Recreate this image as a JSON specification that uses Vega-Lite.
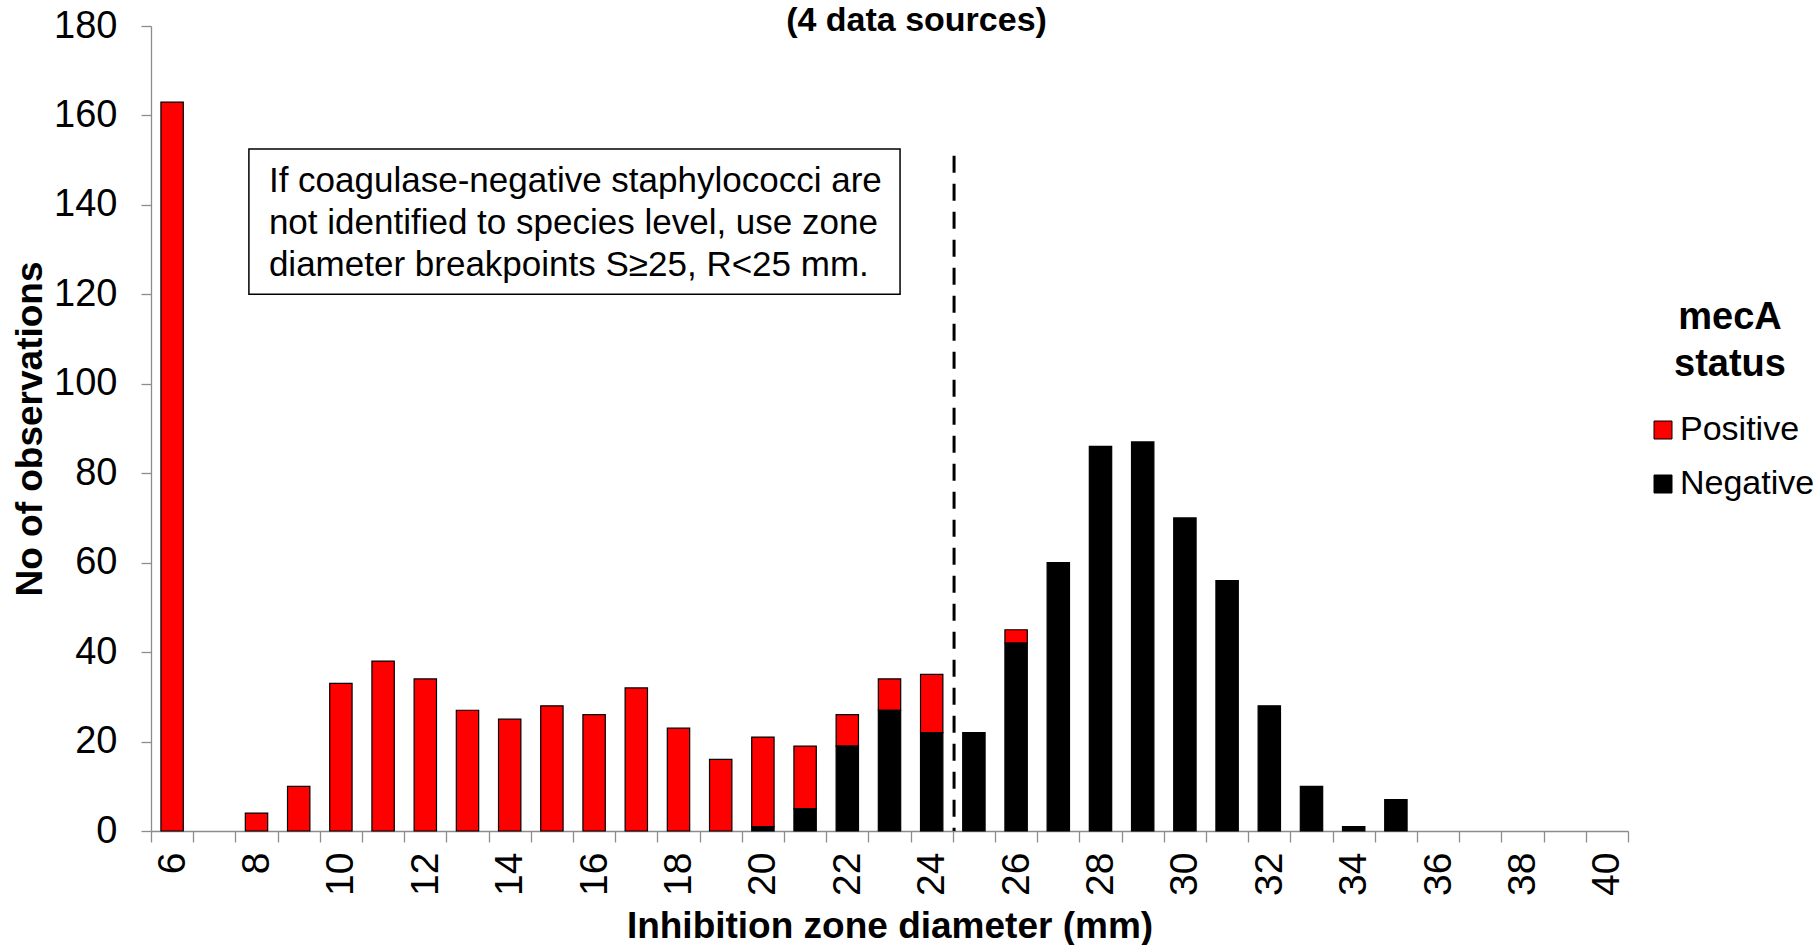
{
  "$schema": "https://vega.github.io/schema/vega-lite/v6.json",
  "width": 1477,
  "height": 805,
  "autosize": {"type": "none"},
  "padding": {"left": 151, "top": 26, "right": 188, "bottom": 114},
  "background": "white",
  "config": {"view": {"stroke": null}, "font": "Liberation Sans"},
  "title": {"text": "(4 data sources)", "font": "Liberation Sans", "fontWeight": "bold", "fontSize": 34, "color": "black", "anchor": "middle", "dx": 27, "baseline": "alphabetic", "offset": 0, "dy": 58},
  "datasets": {
    "bars": [
      {"d": 6, "status": "Positive", "n": 163},
      {"d": 8, "status": "Positive", "n": 4},
      {"d": 9, "status": "Positive", "n": 10},
      {"d": 10, "status": "Positive", "n": 33},
      {"d": 11, "status": "Positive", "n": 38},
      {"d": 12, "status": "Positive", "n": 34},
      {"d": 13, "status": "Positive", "n": 27},
      {"d": 14, "status": "Positive", "n": 25},
      {"d": 15, "status": "Positive", "n": 28},
      {"d": 16, "status": "Positive", "n": 26},
      {"d": 17, "status": "Positive", "n": 32},
      {"d": 18, "status": "Positive", "n": 23},
      {"d": 19, "status": "Positive", "n": 16},
      {"d": 20, "status": "Positive", "n": 20},
      {"d": 21, "status": "Positive", "n": 14},
      {"d": 22, "status": "Positive", "n": 7},
      {"d": 23, "status": "Positive", "n": 7},
      {"d": 24, "status": "Positive", "n": 13},
      {"d": 26, "status": "Positive", "n": 3},
      {"d": 20, "status": "Negative", "n": 1},
      {"d": 21, "status": "Negative", "n": 5},
      {"d": 22, "status": "Negative", "n": 19},
      {"d": 23, "status": "Negative", "n": 27},
      {"d": 24, "status": "Negative", "n": 22},
      {"d": 25, "status": "Negative", "n": 22},
      {"d": 26, "status": "Negative", "n": 42},
      {"d": 27, "status": "Negative", "n": 60},
      {"d": 28, "status": "Negative", "n": 86},
      {"d": 29, "status": "Negative", "n": 87},
      {"d": 30, "status": "Negative", "n": 70},
      {"d": 31, "status": "Negative", "n": 56},
      {"d": 32, "status": "Negative", "n": 28},
      {"d": 33, "status": "Negative", "n": 10},
      {"d": 34, "status": "Negative", "n": 1},
      {"d": 35, "status": "Negative", "n": 7}
    ],
    "note": [
      {"from": 8, "to": 23, "top": 152.5, "bottom": 120, "note": "If coagulase-negative staphylococci are\nnot identified to species level, use zone\ndiameter breakpoints S≥25, R<25 mm."}
    ],
    "cut": [
      {"at": 25, "top": 151, "base": 0}
    ]
  },
  "layer": [
    {
      "data": {"name": "bars"},
      "mark": {"type": "bar", "width": {"band": 0.53}, "stroke": "black", "strokeWidth": 1.2},
      "encoding": {
        "x": {
          "field": "d", "type": "ordinal", "title": "Inhibition zone diameter (mm)",
          "scale": {"domain": [6,7,8,9,10,11,12,13,14,15,16,17,18,19,20,21,22,23,24,25,26,27,28,29,30,31,32,33,34,35,36,37,38,39,40], "paddingInner": 0, "paddingOuter": 0},
          "axis": {
            "tickBand": "extent", "labelAngle": -90, "labelExpr": "datum.value % 2 == 0 ? datum.label : ''",
            "labelFont": "Liberation Sans", "labelFontSize": 39, "labelColor": "black", "labelPadding": 10,
            "tickSize": 11, "tickColor": "#8c8c8c", "tickWidth": 1.3, "domainColor": "#8c8c8c", "domainWidth": 1.3,
            "titleFont": "Liberation Sans", "titleFontWeight": "bold", "titleFontSize": 37, "titleColor": "black",
            "titleBaseline": "alphabetic", "titleY": 106, "grid": false
          }
        },
        "y": {
          "field": "n", "type": "quantitative", "stack": "zero", "title": "No of observations",
          "scale": {"domain": [0, 180], "nice": false},
          "axis": {
            "values": [0,20,40,60,80,100,120,140,160,180], "grid": false,
            "labelFont": "Liberation Sans", "labelFontSize": 38, "labelColor": "black", "labelPadding": 24,
            "tickSize": 10, "tickColor": "#8c8c8c", "tickWidth": 1.3, "domainColor": "#8c8c8c", "domainWidth": 1.3,
            "titleFont": "Liberation Sans", "titleFontWeight": "bold", "titleFontSize": 37, "titleColor": "black",
            "titleBaseline": "alphabetic", "titleX": -110, "titleY": 402.5, "titleAlign": "center", "titleAngle": 270
          }
        },
        "color": {
          "field": "status", "type": "nominal",
          "scale": {"domain": ["Positive", "Negative"], "range": ["#ff0000", "#000000"]},
          "legend": {
            "title": ["mecA", "status"], "orient": "none", "legendX": 1495, "legendY": 273,
            "titleFont": "Liberation Sans", "titleFontSize": 38, "titleFontWeight": "bold", "titleColor": "black",
            "titleAnchor": "middle", "titleAlign": "center", "titleLineHeight": 47, "titlePadding": 29,
            "labelFont": "Liberation Sans", "labelFontSize": 34, "labelColor": "black", "labelOffset": 0,
            "symbolType": "square", "symbolSize": 324, "symbolStrokeColor": "black", "symbolStrokeWidth": 1,
            "symbolOpacity": 1, "rowPadding": 20
          }
        },
        "order": {"field": "status", "sort": "ascending"}
      }
    },
    {
      "data": {"name": "note"},
      "mark": {"type": "rect", "fill": "white", "stroke": "black", "strokeWidth": 1.5},
      "encoding": {
        "x": {"field": "from", "type": "ordinal", "bandPosition": 0.32, "title": "Inhibition zone diameter (mm)"},
        "x2": {"field": "to", "bandPosition": 0.75},
        "y": {"field": "top", "type": "quantitative", "title": "No of observations"},
        "y2": {"field": "bottom"}
      }
    },
    {
      "data": {"name": "note"},
      "mark": {"type": "text", "align": "left", "baseline": "alphabetic", "dx": 20, "dy": 43, "fontSize": 35, "lineHeight": 42, "lineBreak": "\n", "font": "Liberation Sans", "color": "black"},
      "encoding": {
        "x": {"field": "from", "type": "ordinal", "bandPosition": 0.32, "title": "Inhibition zone diameter (mm)"},
        "y": {"field": "top", "type": "quantitative", "title": "No of observations"},
        "text": {"field": "note"}
      }
    },
    {
      "data": {"name": "cut"},
      "mark": {"type": "rule", "strokeDash": [17, 11], "strokeWidth": 3, "color": "black"},
      "encoding": {
        "x": {"field": "at", "type": "ordinal", "bandPosition": 0.03, "title": "Inhibition zone diameter (mm)"},
        "y": {"field": "top", "type": "quantitative", "title": "No of observations"},
        "y2": {"field": "base"}
      }
    }
  ]
}
